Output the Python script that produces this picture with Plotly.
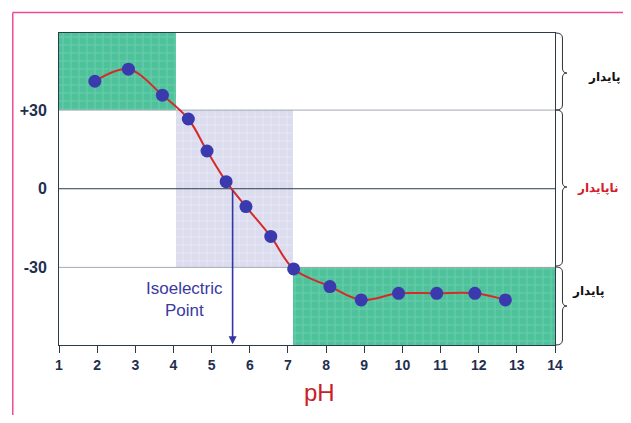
import plotly.graph_objects as go

# ---- data ----
ph = [1.94, 2.82, 3.71, 4.39, 4.88, 5.38, 5.9, 6.55, 7.15, 8.1, 8.92, 9.9, 10.9, 11.9, 12.7]
zeta = [41.0, 45.6, 35.7, 26.6, 14.4, 2.7, -6.8, -18.2, -30.6, -37.3, -42.4, -39.9, -39.9, -39.9, -42.4]

x_ticks = list(range(1, 15))
y_tickvals = [30, 0, -30]
y_ticktext = ["+30", "0", "-30"]

# shaded regions: x0, x1, y0, y1
reg_x0 = [1.0, 4.07, 7.14]
reg_x1 = [4.07, 7.14, 14.0]
reg_y0 = [30, -30, -59.6]
reg_y1 = [59.4, 30, -30]
reg_bg = ["#4ec39b", "#dcdcef", "#4ec39b"]
reg_fg = ["#86d8bb", "#f0f0fa", "#86d8bb"]

isoelectric_ph = 5.55
labels_fa = ["پایدار", "ناپایدار", "پایدار"]
labels_col = ["#111111", "#d4202a", "#111111"]

XR = [1, 14]
YR = [-59.6, 59.4]

# page body has an 8px margin; work in page pixels and offset
OFF = 8
L, R, T, B = 56, 555, 33, 345
W, H = 631 - 2 * OFF, 423 - 2 * OFF


def px(x):
    return (x - L) / (R - L)


def py(y):
    return (B - y) / (B - T)


fig = go.Figure()

for x0, x1, y0, y1, bg, fg in zip(reg_x0, reg_x1, reg_y0, reg_y1, reg_bg, reg_fg):
    fig.add_trace(go.Bar(
        x=[(x0 + x1) / 2], y=[y1 - y0], base=[y0], width=[x1 - x0],
        marker=dict(color=bg, line=dict(width=0),
                    pattern=dict(shape="+", bgcolor=bg, fgcolor=fg, size=8, solidity=0.25)),
        hoverinfo="skip", showlegend=False))

# horizontal reference lines
for yv, col in zip(y_tickvals, ["#a3aab2", "#2a3a4a", "#a3aab2"]):
    fig.add_trace(go.Scatter(x=XR, y=[yv, yv], mode="lines",
                             line=dict(color=col, width=1), hoverinfo="skip", showlegend=False))

fig.add_trace(go.Scatter(
    x=ph, y=zeta, mode="lines+markers",
    line=dict(color="#d42a2a", width=2, shape="spline", smoothing=1.0),
    marker=dict(color="#3a3aae", size=13),
    showlegend=False))

# arrow
fig.add_annotation(x=isoelectric_ph, y=YR[0] + 0.3, ax=isoelectric_ph, ay=0,
                   xref="x", yref="y", axref="x", ayref="y",
                   showarrow=True, arrowhead=2, arrowsize=1, arrowwidth=1.6,
                   arrowcolor="#3535a5", text="")
fig.add_annotation(x=4.3, y=-42.2, xref="x", yref="y", showarrow=False,
                   text="Isoelectric<br>Point", align="center",
                   font=dict(family="Liberation Sans, Arial", size=17, color="#3a3aa0"))

# x title
fig.add_annotation(x=px(318), y=py(408), xref="paper", yref="paper", showarrow=False,
                   text="pH", font=dict(family="Liberation Sans, Arial", size=24, color="#c8202a"))

shapes = []
# braces
brace_defs = [(33, 73, 110), (110, 187, 266), (267, 306, 345)]
bx0, bx1, bx2 = 556, 562.5, 567
for top, mid, bot in brace_defs:
    d = 5
    path = (f"M {px(bx0)},{py(top)} Q {px(bx1)},{py(top)} {px(bx1)},{py(top + d)} "
            f"L {px(bx1)},{py(mid - d)} Q {px(bx1)},{py(mid)} {px(bx2)},{py(mid)} "
            f"Q {px(bx1)},{py(mid)} {px(bx1)},{py(mid + d)} "
            f"L {px(bx1)},{py(bot - d)} Q {px(bx1)},{py(bot)} {px(bx0)},{py(bot)}")
    shapes.append(dict(type="path", path=path, xref="paper", yref="paper",
                       line=dict(color="#333333", width=1)))

# pink frame
shapes.append(dict(type="line", xref="paper", yref="paper",
                   x0=px(9.5), y0=py(440), x1=px(9.5), y1=py(12.5),
                   line=dict(color="#ee4a9c", width=1.5)))
shapes.append(dict(type="line", xref="paper", yref="paper",
                   x0=px(9.5), y0=py(12.5), x1=px(645), y1=py(12.5),
                   line=dict(color="#ee4a9c", width=1.5)))

label_left = [(586, 68), (575, 188), (570, 300)]
for (lx, ly), txt, col in zip(label_left, labels_fa, labels_col):
    fig.add_annotation(x=px(lx), y=py(ly), xref="paper", yref="paper", showarrow=False,
                       xanchor="left", text=f"<b>{txt}</b>",
                       font=dict(family="DejaVu Sans", size=12, color=col))

fig.update_layout(
    width=W, height=H,
    margin=dict(l=L - OFF, r=W + OFF - R, t=T - OFF, b=H + OFF - B),
    paper_bgcolor="white", plot_bgcolor="white",
    barmode="overlay", bargap=0,
    shapes=shapes,
    xaxis=dict(range=XR, tickvals=x_ticks, ticktext=[f"<b>{t}</b>" for t in x_ticks],
               ticks="outside", ticklen=7, tickcolor="#2b3b4b", tickwidth=1,
               showgrid=False, zeroline=False,
               showline=True, mirror=True, linecolor="#2b3b4b", linewidth=1,
               tickfont=dict(family="Liberation Sans, Arial", size=14, color="#1f2f4f")),
    yaxis=dict(range=YR, tickvals=y_tickvals, ticktext=[f"<b>{t}</b>" for t in y_ticktext],
               ticks="", showgrid=False, zeroline=False, ticklabelstandoff=8,
               showline=True, mirror=True, linecolor="#2b3b4b", linewidth=1,
               tickfont=dict(family="Liberation Sans, Arial", size=16, color="#1f2f4f")),
)

fig.write_html("out.html")
